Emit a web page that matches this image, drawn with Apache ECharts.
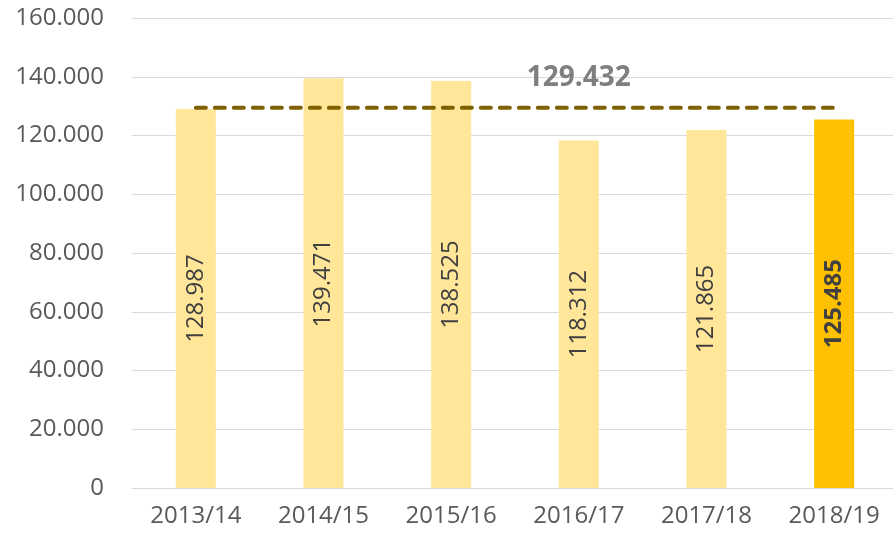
<!DOCTYPE html>
<html><head><meta charset="utf-8">
<script src="https://cdn.jsdelivr.net/npm/echarts@6/dist/echarts.min.js"></script>
<style>html,body{margin:0;padding:0;background:#fff}#c{width:893px;height:539px}</style>
</head><body><div id="c"></div>
<script>
const categories = ['2013/14','2014/15','2015/16','2016/17','2017/18','2018/19'];
const values = [128987, 139471, 138525, 118312, 121865, 125485];
const average = 129432;
const highlightIndex = 5;
const averageLabelIndex = 3;
const yTicks = [0, 20000, 40000, 60000, 80000, 100000, 120000, 140000, 160000];

function fmt(v){
  if (v === 0) return '0';
  const s = Math.round(v).toString();
  return s.replace(/\B(?=(\d{3})+(?!\d))/g, '.');
}
const FONT = 'Open Sans';
const chart = echarts.init(document.getElementById('c'));
chart.setOption({
  animation: false,
  grid: {left: 132, width: 766, top: 18, bottom: 51, containLabel: false, outerBoundsMode: 'none'},
  xAxis: {
    type: 'category', data: categories,
    axisLine: {lineStyle: {color: '#D9D9D9', width: 1}},
    axisTick: {show: false},
    axisLabel: {color: '#595959', fontFamily: FONT, fontSize: 24, margin: 16}
  },
  yAxis: {
    type: 'value', min: yTicks[0], max: yTicks[yTicks.length-1], interval: 20000,
    axisLine: {show: false}, axisTick: {show: false},
    splitLine: {lineStyle: {color: '#D9D9D9', width: 1}},
    axisLabel: {color: '#595959', fontFamily: FONT, fontSize: 24, margin: 28, formatter: fmt}
  },
  series: [
    {
      type: 'bar', barWidth: 40,
      data: values.map((v, i) => ({
        value: v,
        itemStyle: {color: i === highlightIndex ? '#FFC000' : '#FFE699'},
        label: {fontWeight: i === highlightIndex ? 'bold' : 'normal'}
      })),
      label: {
        show: true, position: 'inside', rotate: 90,
        color: '#404040', fontFamily: FONT, fontSize: 24,
        formatter: p => fmt(p.value)
      }
    },
    {
      type: 'line',
      data: categories.map(() => average),
      symbol: 'circle', symbolSize: 0, showSymbol: true,
      lineStyle: {color: '#7F6000', width: 4, type: [10, 9], cap: 'round'},
      label: {
        show: true,
        position: 'top', distance: 16,
        color: '#7F7F7F', fontFamily: FONT, fontSize: 28, fontWeight: 'bold',
        formatter: p => p.dataIndex === averageLabelIndex ? fmt(p.value) : ''
      },
      z: 5
    }
  ]
});
</script></body></html>
